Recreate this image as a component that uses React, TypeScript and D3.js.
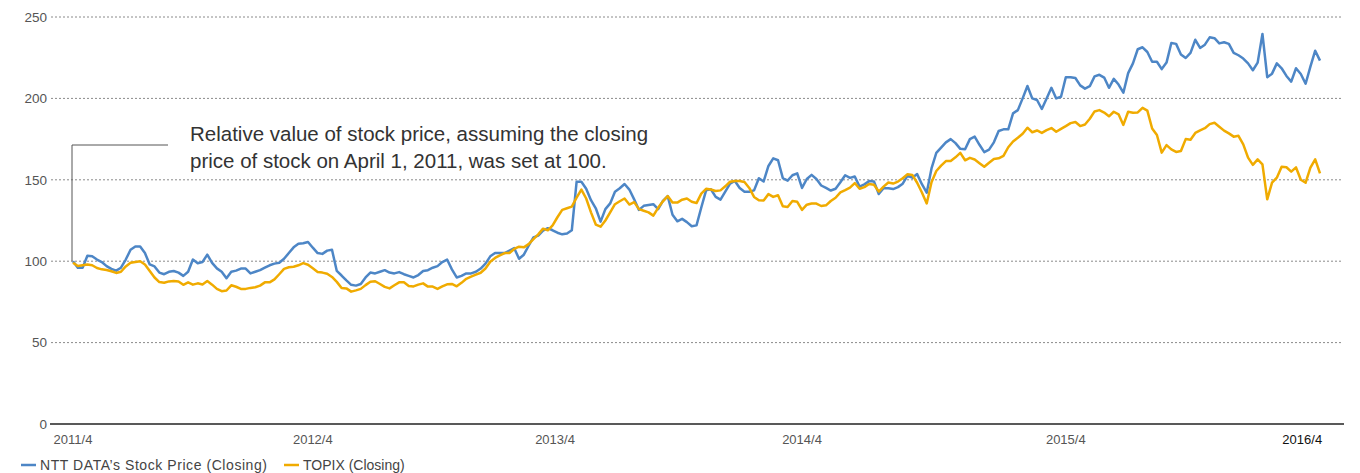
import React from "react";
import * as d3 from "d3";

const nttData: number[] = [
  100, 96, 96, 103.4, 103, 101, 99.5, 97, 95.3, 94.2,
  96, 101, 107, 109, 109, 105, 98, 96.8, 93, 92,
  93.5, 94, 93, 91, 93.5, 101, 98.7, 99.5, 104, 99,
  95.6, 93.5, 89.5, 93.5, 94.2, 95.5, 95.5, 92.5, 93.5, 94.5,
  96, 97.5, 98.5, 99, 101.5, 105, 108.5, 110.7, 111, 111.8,
  108.3, 105, 104.5, 106.5, 107, 94, 91.2, 88.2, 85.5, 85,
  86, 90, 93, 92.5, 93.5, 94.5, 93, 92.5, 93.3, 92,
  91, 90, 91.5, 94, 94.5, 96, 97, 99.5, 101, 95,
  90, 91, 92.5, 92.5, 93.5, 95.5, 98.5, 103, 105, 105,
  105, 106.5, 108, 101.5, 104, 109.5, 114.6, 115.7, 118.8, 120.3,
  119, 117.5, 116.5, 117, 119, 148.8, 148.8, 144.5, 137.5, 132.5,
  124.3, 132, 135.5, 142.7, 144.8, 147.4, 144, 138, 131.5, 134,
  134.5, 135, 132, 137, 140, 128.5, 124.5, 126, 124, 121.5,
  122, 133, 143.5, 144.2, 139.5, 137.8, 142.7, 147.7, 149.3, 145,
  142.7, 142.7, 143.5, 151, 149, 158.5, 163.2, 162, 151, 149.5,
  152.8, 154, 145, 150.5, 153, 150.5, 146.5, 145, 143.4, 144.5,
  148.5, 152.8, 151.2, 152, 145.8, 147.2, 149.2, 149, 141.3, 144.8,
  144.8, 144.3, 145.5, 147.6, 152.5, 151.3, 153.5, 147.3, 142.1, 157,
  166.5, 169.8, 173, 175, 172.5, 169, 168.8, 175, 176.5, 171.5,
  167, 168.5, 173, 180, 181, 181, 190.8, 192.8, 200, 207.6,
  200, 199, 193.5, 200, 206.5, 200, 201, 213, 213, 212.5,
  208, 206, 207.5, 213.5, 214.5, 212.8, 206.5, 212, 208.5, 203.5,
  215.5, 221.5, 230.2, 231.4, 228.5, 222.5, 222.5, 218, 222, 234,
  233.5, 227, 224.8, 228, 236, 231, 233, 237.5, 237, 233.8,
  234.5, 233.5, 228, 226.5, 224.5, 221.5, 217.3, 222, 239.6, 213,
  215.2, 221.5, 218.5, 213.8, 210.3, 218.5, 215, 209, 219.5, 229.3, 223.2,
];

const topix: number[] = [
  99, 97, 97.5, 98, 97.5, 95.8, 95, 94.6, 93.8, 92.8,
  93.5, 96.8, 99, 99.5, 100, 98, 94, 90, 87.2, 86.8,
  87.6, 87.8, 87.5, 85.5, 87, 85.6, 86.4, 85.7, 87.8, 85.6,
  83, 81.6, 82, 85.2, 84.3, 83, 83, 83.6, 84, 85,
  87, 87, 88.8, 92, 95.3, 96.3, 96.6, 97.5, 98.8, 97.8,
  95.6, 93.4, 93, 92.3, 90.3, 87.3, 83.5, 83.3, 81.3, 82.1,
  83, 85.3, 87.4, 87.7, 86, 84.2, 83.3, 85.2, 87, 87.1,
  84.8, 84.5, 85.6, 86.4, 84.4, 84.4, 83, 84.5, 85.8, 86,
  84.6, 86.7, 89.2, 90.5, 91.7, 92.9, 95.5, 99.7, 102, 103.6,
  105, 105, 107.5, 108.9, 108.5, 110.5, 113.5, 116.5, 120, 119,
  122, 127, 131.5, 132.5, 133.5, 139, 144, 138.5, 130, 122.5,
  121.2, 125, 130, 135, 136.8, 138.5, 134.8, 136.3, 132, 131,
  130, 128, 132.8, 136.8, 140, 136, 136, 137.8, 138.5, 136.5,
  135.7, 141.5, 144.5, 144, 143.1, 143.5, 146, 148.8, 149.2, 149.3,
  148.6, 145, 139.5, 137.4, 137.3, 141.2, 139.5, 140.5, 133.8, 133.3,
  137, 136.5, 131.5, 134.7, 135.4, 135.4, 133.9, 134.3, 137, 139,
  142.3, 143.7, 145.2, 148, 144.5, 145.5, 147.4, 147, 142.8, 145.8,
  148.3, 147.7, 148.9, 151, 153.4, 153, 148.2, 142.2, 135.5, 148.5,
  155.4, 158.7, 161.5, 161.6, 163.8, 166.5, 162, 163.5, 162.5, 160.2,
  158, 160.5, 162.8, 163.2, 164.7, 170, 173.5, 175.8, 178.3, 182,
  179.2, 180.3, 178.8, 180.5, 181.8, 179.5, 181.3, 183, 184.8, 185.5,
  183, 184, 187.5, 192, 192.8, 191.3, 189, 191.8, 190.2, 183.7,
  191.8, 191.2, 191.4, 194.2, 192.5, 181.5, 177.5, 166.7, 171.3, 168.7,
  167.1, 167.7, 175, 174.6, 178.8, 180.4, 181.7, 184.2, 185, 182.6,
  180.2, 178.5, 176.5, 177, 171.8, 163.6, 159.2, 162.5, 159.5, 138,
  148.3, 151.3, 158, 157.7, 155, 157.6, 150, 148.2, 157.5, 162.6, 154,
];

const yTicks: number[] = [0, 50, 100, 150, 200, 250];
const xTickLabels: string[] = ["2011/4", "2012/4", "2013/4", "2014/4", "2015/4", "2016/4"];
const xTickWeeks: number[] = [0, 50, 100.5, 152, 207, 256.3];

const seriesNames: string[] = ["NTT DATA\u2019s Stock Price (Closing)", "TOPIX (Closing)"];
const seriesColors: string[] = ["#4d86c6", "#f0ab00"];

const noteLines: string[] = [
  "Relative value of stock price, assuming the closing",
  "price of stock on April 1, 2011, was set at 100.",
];

const W = 1360;
const H = 473;
const FONT = "'Liberation Sans', Arial, Helvetica, sans-serif";

export default function App() {
  const x = d3.scaleLinear().domain([0, nttData.length - 1]).range([73, 1320]);
  const y = d3.scaleLinear().domain([0, 250]).range([424, 17]);
  const line = d3
    .line<number>()
    .x((_, i) => x(i))
    .y((d) => y(d));

  return (
    <div style={{ position: "absolute", left: 0, top: 0, width: W, height: H, background: "#fff" }}>
      <svg width={W} height={H} style={{ display: "block", fontFamily: FONT }}>
        {yTicks.map((t) =>
          t === 0 ? null : (
            <line
              key={"g" + t}
              x1={51}
              x2={1341}
              y1={y(t)}
              y2={y(t)}
              stroke="#8a8a8a"
              strokeWidth={1}
              strokeDasharray="2,2"
            />
          )
        )}
        {yTicks.map((t) => (
          <text
            key={"yl" + t}
            x={47}
            y={y(t)}
            dy="0.35em"
            textAnchor="end"
            fontSize={13.5}
            fill="#555"
          >
            {t}
          </text>
        ))}
        <line x1={50} x2={1344} y1={y(0)} y2={y(0)} stroke="#222" strokeWidth={1.5} />
        {xTickLabels.map((l, i) => (
          <text
            key={"xl" + l}
            x={x(xTickWeeks[i])}
            y={444}
            textAnchor="middle"
            fontSize={13}
            fill={i === xTickLabels.length - 1 ? "#111" : "#555"}
          >
            {l}
          </text>
        ))}

        {/* annotation bracket */}
        <polyline
          points={`${x(0) - 1},${y(100)} ${x(0) - 1},145 168,145`}
          fill="none"
          stroke="#555"
          strokeWidth={1}
        />
        {noteLines.map((t, i) => (
          <text key={"n" + i} x={190} y={141 + i * 27} fontSize={20.5} fill="#333">
            {t}
          </text>
        ))}

        <path d={line(nttData) || ""} fill="none" stroke={seriesColors[0]} strokeWidth={2.5} strokeLinejoin="round" />
        <path d={line(topix) || ""} fill="none" stroke={seriesColors[1]} strokeWidth={2.5} strokeLinejoin="round" />

        {/* legend */}
        <line x1={21} x2={36} y1={465} y2={465} stroke={seriesColors[0]} strokeWidth={2.5} />
        <text x={40} y={470} fontSize={14} fill="#444" textLength={227} lengthAdjust="spacing">
          {seriesNames[0]}
        </text>
        <line x1={284} x2={299} y1={465} y2={465} stroke={seriesColors[1]} strokeWidth={2.5} />
        <text x={303} y={470} fontSize={14} fill="#444">
          {seriesNames[1]}
        </text>
      </svg>
    </div>
  );
}
